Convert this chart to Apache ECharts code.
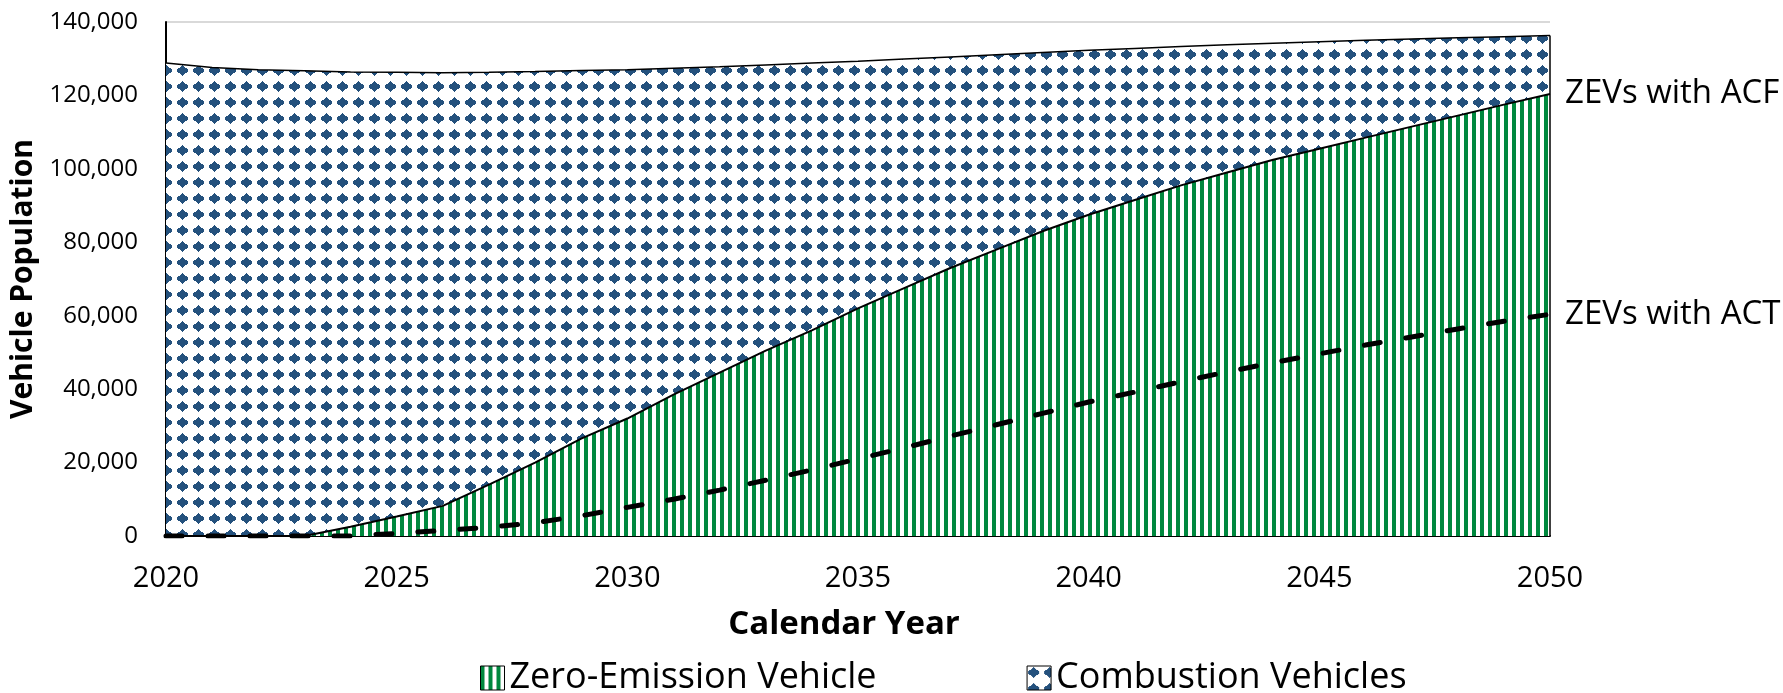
<!DOCTYPE html>
<html>
<head>
<meta charset="utf-8">
<script src="https://cdn.jsdelivr.net/npm/echarts@6/dist/echarts.min.js"></script>
<style>
html,body{margin:0;padding:0;background:#fff;}
#chart{width:1783px;height:693px;}
</style>
</head>
<body>
<div id="chart"></div>
<script>
const years = ['2020','2021','2022','2023','2024','2025','2026','2027','2028','2029','2030','2031','2032','2033','2034','2035','2036','2037','2038','2039','2040','2041','2042','2043','2044','2045','2046','2047','2048','2049','2050'];
const zevACF = [0,0,0,0,2500,5300,8200,14000,20000,26500,32000,38500,44500,50500,56000,62000,67500,73000,78000,83000,87500,91500,95500,99000,102500,105500,108500,111500,114500,117500,120400];
const combustion = [128800,127600,127000,126700,123900,121000,118000,112300,106500,100300,95000,88900,83300,77800,72800,67300,62400,57500,53100,48700,44800,41300,37800,34800,31700,29100,26500,23900,21200,18500,15900];
const zevACT = [0,0,0,0,0,700,1500,2400,3600,5500,7800,10000,12500,15200,18000,21000,24000,27200,30300,33400,36500,39200,42000,44700,47200,49600,52000,54200,56400,58500,60400];
const seriesNames = ['Zero-Emission Vehicle','Combustion Vehicles'];
const endLabels = ['ZEVs with ACF','ZEVs with ACT'];

function stripePattern(){
  const c = document.createElement('canvas');
  c.width = 8; c.height = 8;
  const g = c.getContext('2d');
  g.fillStyle = '#ffffff'; g.fillRect(0,0,8,8);
  g.fillStyle = '#00883E'; g.fillRect(0,0,4,8);
  return c;
}
function diamondPattern(){
  const c = document.createElement('canvas');
  c.width = 16; c.height = 16;
  const g = c.getContext('2d');
  g.fillStyle = '#ffffff'; g.fillRect(0,0,16,16);
  g.fillStyle = '#24517D';
  const cx = 6, cy = 6;
  const halfWidths = [5,5,4,2,1,0];
  for (let dy = -5; dy <= 5; dy++) {
    const hw = halfWidths[Math.abs(dy)];
    g.fillRect(cx - hw, cy + dy, 2*hw + 1, 1);
  }
  return c;
}
const greenFill = {image: stripePattern(), repeat: 'repeat'};
const blueFill = {image: diamondPattern(), repeat: 'repeat'};
const FONT = 'Open Sans';
const last = years.length - 1;

const chart = echarts.init(document.getElementById('chart'), null, {renderer:'canvas'});
chart.setOption({
  animation: false,
  backgroundColor: '#ffffff',
  grid: {left:166, right:233, top:22, bottom:157, containLabel:false},
  legend: {
    data: seriesNames,
    left: 475, top: 655,
    itemWidth: 24, itemHeight: 24, itemGap: 150,
    icon: 'rect',
    itemStyle: {borderColor:'#000', borderWidth:1},
    textStyle: {fontFamily: FONT, fontSize: 36, color:'#000'}
  },
  xAxis: {
    type: 'category',
    data: years,
    boundaryGap: false,
    name: 'Calendar Year',
    nameLocation: 'middle',
    nameGap: 72,
    nameTextStyle: {fontFamily: FONT, fontSize: 33, fontWeight:'bold', color:'#000', padding:[0,28,0,0]},
    axisLine: {lineStyle:{color:'#000', width:2}},
    axisTick: {show:false},
    axisLabel: {interval: 4, fontFamily: FONT, fontSize: 29, color:'#000', margin: 28},
    splitLine: {show:false}
  },
  yAxis: {
    type: 'value',
    min: 0, max: 140000, interval: 20000,
    name: 'Vehicle Population',
    nameLocation: 'middle',
    nameRotate: 90,
    nameGap: 120,
    nameTextStyle: {fontFamily: FONT, fontSize: 30, fontWeight:'bold', color:'#000'},
    axisLine: {show:true, lineStyle:{color:'#000', width:2}},
    axisTick: {show:false},
    axisLabel: {fontFamily: FONT, fontSize: 24, color:'#000', margin: 28,
      formatter: v => v.toLocaleString('en-US')},
    splitLine: {show:true, lineStyle:{color:'#D9D9D9', width:2}}
  },
  series: [
    {
      name: seriesNames[0], type:'line', stack:'fleet', data: zevACF,
      symbol:'none', z: 2,
      itemStyle: {color: greenFill, borderColor:'#000', borderWidth:1},
      lineStyle: {color:'#000', width:2},
      areaStyle: {color: greenFill, opacity:1},
      endLabel: {show:true, formatter: endLabels[0], fontFamily: FONT, fontSize: 33, color:'#000', distance: 15}
    },
    {
      name: seriesNames[1], type:'line', stack:'fleet', data: combustion,
      symbol:'none', z: 2,
      itemStyle: {color: blueFill, borderColor:'#000', borderWidth:1},
      lineStyle: {color:'#000', width:1.5},
      areaStyle: {color: blueFill, opacity:1}
    },
    {
      name: 'edge', type:'line', symbol:'none', z: 3,
      data: [[years[last], 0], [years[last], zevACF[last] + combustion[last]]],
      lineStyle: {color:'#000', width:1.5}
    },
    {
      name: 'ZEVs with ACT', type:'line', data: zevACT, symbol:'none', z: 4,
      itemStyle: {color:'#000'},
      lineStyle: {color:'#000', width:5, type:[16,26], cap:'round'},
      endLabel: {show:true, formatter: endLabels[1], fontFamily: FONT, fontSize: 33, color:'#000', distance: 15}
    }
  ]
});
</script>
</body>
</html>
